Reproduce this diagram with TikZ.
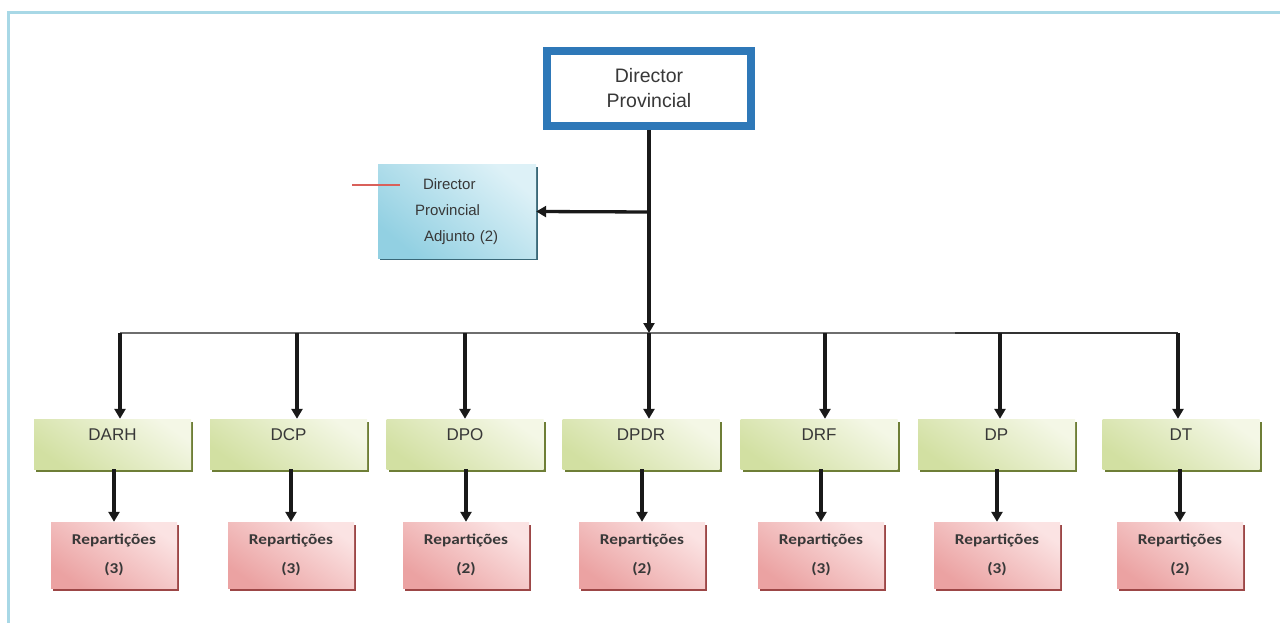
\documentclass[tikz,border=0pt]{standalone}
\usepackage{fontspec}
\setmainfont{Liberation Sans}
\newfontfamily\repfont{Carlito}[FakeStretch=1.15]
\usetikzlibrary{arrows.meta,shadows}
\definecolor{framecol}{HTML}{A8D8E6}
\definecolor{topblue}{HTML}{2E78B8}
\definecolor{txtgray}{HTML}{383838}
\definecolor{adjL}{HTML}{DDF1F7}
\definecolor{adjD}{HTML}{92D0E2}
\definecolor{adjS}{HTML}{3A6878}
\definecolor{grnL}{HTML}{F4F7E6}
\definecolor{grnD}{HTML}{D2E0A2}
\definecolor{grnS}{HTML}{6E7E36}
\definecolor{pnkL}{HTML}{FBE3E3}
\definecolor{pnkD}{HTML}{EBA2A2}
\definecolor{pnkS}{HTML}{9C4646}
\definecolor{redline}{HTML}{D9605A}
\definecolor{busgray}{HTML}{6E6E6E}
\tikzset{
  topbox/.style={draw=topblue, line width=8pt, fill=white, minimum width=204pt,
    minimum height=75pt, inner sep=0pt, align=center, text=txtgray,
    font=\fontsize{19.5}{25}\selectfont},
  adjbox/.style={minimum width=158pt, minimum height=93pt, inner sep=0pt,
    text width=120pt, align=left, text=txtgray,
    top color=adjL, bottom color=adjD, shading angle=-40,
    drop shadow={shadow xshift=2pt, shadow yshift=-2pt, fill=adjS, opacity=1},
    font=\fontsize{15}{26}\selectfont},
  gbox/.style={minimum width=157pt, minimum height=50pt, inner sep=0pt,
    text height=12pt, text depth=20pt, text=txtgray,
    top color=grnL, bottom color=grnD, shading angle=-35,
    drop shadow={shadow xshift=2pt, shadow yshift=-3pt, fill=grnS, opacity=1},
    font=\fontsize{17}{19}\selectfont},
  pbox/.style={minimum width=126pt, minimum height=66pt, inner sep=0pt,
    align=center, text=txtgray,
    top color=pnkL, bottom color=pnkD, shading angle=-35,
    drop shadow={shadow xshift=2pt, shadow yshift=-3pt, fill=pnkS, opacity=1},
    font=\repfont\bfseries\fontsize{15}{29}\selectfont},
  arr/.style={draw=black!90, line width=3.3pt, -{Triangle[length=10pt,width=11pt]}},
  busline/.style={draw=busgray, line width=1.6pt},
}
\begin{document}
\begin{tikzpicture}[x=1pt,y=-1pt]
\useasboundingbox (0,0) rectangle (1280,623);
% frame
\draw[framecol, line width=3pt] (1280,13) -- (8,13) -- (8,623);

% top
\node[topbox] (dp) at (649,88.5) {Director\\Provincial};
\node[adjbox] (adj) at (457,211.5) {\hspace*{26pt}Director\\\hspace*{18pt}Provincial\\\hspace*{27pt}Adjunto (2)};
\coordinate (rl1) at (352,185);
\coordinate (rl2) at (400,185);
\draw[redline, line width=1.6pt] (rl1) -- (rl2);

% green boxes
\node[gbox] (g1) at (112.5,444) {DARH};
\node[gbox] (g2) at (288.5,444) {DCP};
\node[gbox] (g3) at (465,444) {DPO};
\node[gbox] (g4) at (641,444) {DPDR};
\node[gbox] (g5) at (819,444) {DRF};
\node[gbox] (g6) at (996.5,444) {DP};
\node[gbox] (g7) at (1181,444) {DT};

% pink boxes
\node[pbox] (p1) at (114,555) {Reparti\c{c}\~oes\\(3)};
\node[pbox] (p2) at (291,555) {Reparti\c{c}\~oes\\(3)};
\node[pbox] (p3) at (466,555) {Reparti\c{c}\~oes\\(2)};
\node[pbox] (p4) at (642,555) {Reparti\c{c}\~oes\\(2)};
\node[pbox] (p5) at (821,555) {Reparti\c{c}\~oes\\(3)};
\node[pbox] (p6) at (997,555) {Reparti\c{c}\~oes\\(3)};
\node[pbox] (p7) at (1180,555) {Reparti\c{c}\~oes\\(2)};

% bus
\coordinate (b1) at (120,333);
\coordinate (b2) at (297,333);
\coordinate (b3) at (465,333);
\coordinate (b4) at (649,333);
\coordinate (b5) at (825,333);
\coordinate (b6) at (1000,333);
\coordinate (b7) at (1178,333);
\coordinate (bk) at (955,333);
\draw[busline] (b1) -- (b7);
\draw[draw=black!80, line width=2.4pt] (bk) -- (b7);

% top connectors
\coordinate (br) at (649,212);
\draw[arr] (dp.south) -- (b4);
\draw[arr] (br) -- (adj.east);

% bus to green
\foreach \i in {1,2,3,4,5,6,7}{
  \draw[arr] (b\i) -- (b\i |- g\i.north);
}
% green to pink
\foreach \i in {1,2,3,4,5,6,7}{
  \draw[arr] (p\i.north |- g\i.south) -- (p\i.north);
}
\end{tikzpicture}
\end{document}
